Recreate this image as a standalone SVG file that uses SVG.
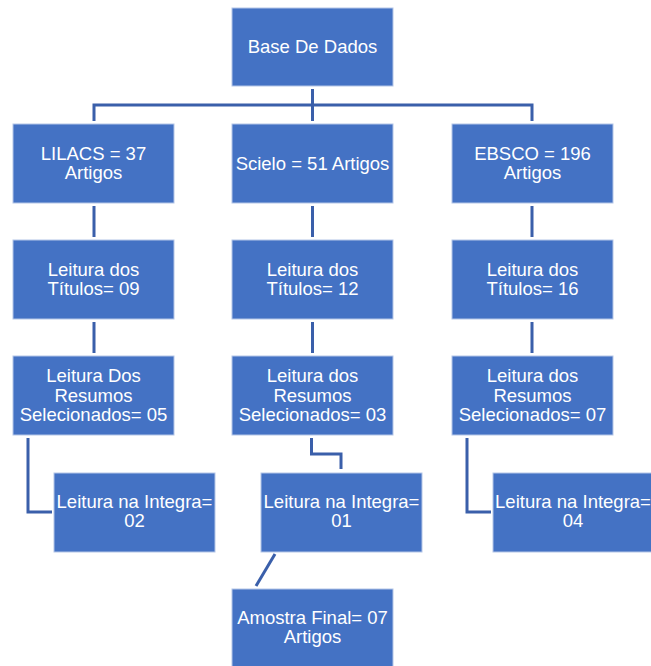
<svg xmlns="http://www.w3.org/2000/svg" width="651" height="666" viewBox="0 0 651 666">
<style>
.box{fill:#4472C4;stroke:#B4C6E7;stroke-width:1}
.t{font-family:"Liberation Sans",Arial,sans-serif;font-size:18.5px;fill:#FFFFFF;text-anchor:middle}
.c{fill:none;stroke:#3A5FAA;stroke-width:3}
</style>
<rect width="651" height="666" fill="#FFFFFF"/>
<g id="connectors">
<path class="c" d="M312.5 89V121M94 121V105H532V121"/>
<path class="c" d="M94 206V237M312.5 206V237M532 206V237"/>
<path class="c" d="M94 322V353M312.5 322V353M532 322V353"/>
<path class="c" d="M28 438V512H52"/>
<path class="c" d="M311.5 438V454H341V469"/>
<path class="c" d="M467 438V512H491"/>
<path class="c" d="M275 554L256 586"/>
</g>
<g id="base"><rect class="box" x="232" y="8" width="161" height="78"/><text class="t" x="312.5" y="53">Base De Dados</text></g>
<g id="lilacs"><rect class="box" x="13" y="124" width="161" height="79"/><text class="t" x="93.5" y="160">LILACS = 37</text><text class="t" x="93.5" y="179">Artigos</text></g>
<g id="scielo"><rect class="box" x="232" y="124" width="161" height="79"/><text class="t" x="312.5" y="169.5">Scielo = 51 Artigos</text></g>
<g id="ebsco"><rect class="box" x="452" y="124" width="161" height="79"/><text class="t" x="532.5" y="160">EBSCO = 196</text><text class="t" x="532.5" y="179">Artigos</text></g>
<g id="titulos-lilacs"><rect class="box" x="13" y="240" width="161" height="79"/><text class="t" x="93.5" y="276">Leitura dos</text><text class="t" x="93.5" y="295">Títulos= 09</text></g>
<g id="titulos-scielo"><rect class="box" x="232" y="240" width="161" height="79"/><text class="t" x="312.5" y="276">Leitura dos</text><text class="t" x="312.5" y="295">Títulos= 12</text></g>
<g id="titulos-ebsco"><rect class="box" x="452" y="240" width="161" height="79"/><text class="t" x="532.5" y="276">Leitura dos</text><text class="t" x="532.5" y="295">Títulos= 16</text></g>
<g id="resumos-lilacs"><rect class="box" x="13" y="356" width="161" height="79"/><text class="t" x="93.5" y="382">Leitura Dos</text><text class="t" x="93.5" y="401.5">Resumos</text><text class="t" x="93.5" y="421">Selecionados= 05</text></g>
<g id="resumos-scielo"><rect class="box" x="232" y="356" width="161" height="79"/><text class="t" x="312.5" y="382">Leitura dos</text><text class="t" x="312.5" y="401.5">Resumos</text><text class="t" x="312.5" y="421">Selecionados= 03</text></g>
<g id="resumos-ebsco"><rect class="box" x="452" y="356" width="161" height="79"/><text class="t" x="532.5" y="382">Leitura dos</text><text class="t" x="532.5" y="401.5">Resumos</text><text class="t" x="532.5" y="421">Selecionados= 07</text></g>
<g id="integra-lilacs"><rect class="box" x="54" y="473" width="161" height="79"/><text class="t" x="134.5" y="508">Leitura na Integra=</text><text class="t" x="134.5" y="527">02</text></g>
<g id="integra-scielo"><rect class="box" x="261" y="473" width="161" height="79"/><text class="t" x="341.5" y="508">Leitura na Integra=</text><text class="t" x="341.5" y="527">01</text></g>
<g id="integra-ebsco"><rect class="box" x="493" y="473" width="161" height="79"/><text class="t" x="573" y="508">Leitura na Integra=</text><text class="t" x="573" y="527">04</text></g>
<g id="amostra"><rect class="box" x="232" y="589" width="161" height="79"/><text class="t" x="312.5" y="624">Amostra Final= 07</text><text class="t" x="312.5" y="643">Artigos</text></g>
</svg>
